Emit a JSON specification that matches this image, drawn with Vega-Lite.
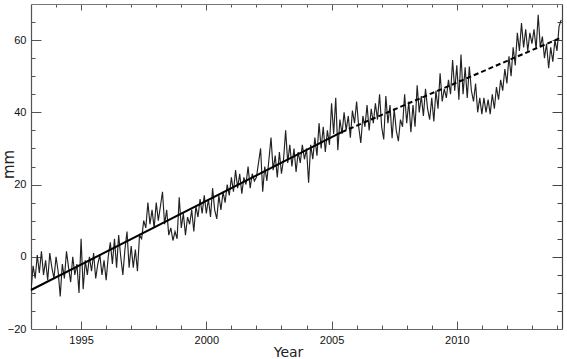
{
  "$schema": "https://vega.github.io/schema/vega-lite/v6.json",
  "width": 531,
  "height": 325,
  "autosize": "none",
  "padding": {"left": 31, "top": 4, "right": 5, "bottom": 30},
  "background": "white",
  "config": {"view": {"stroke": null}},
  "datasets": {
    "series": [
      {"t":1993.000,"v":-9.5},{"t":1993.083,"v":-2.5},{"t":1993.167,"v":-6},{"t":1993.250,"v":0.5},{"t":1993.333,"v":-4.5},{"t":1993.417,"v":1.5},{"t":1993.500,"v":-5},{"t":1993.583,"v":-1},{"t":1993.667,"v":-6.5},{"t":1993.750,"v":1},{"t":1993.833,"v":-3},{"t":1993.917,"v":-6},
      {"t":1994.000,"v":0},{"t":1994.083,"v":-4},{"t":1994.167,"v":-11},{"t":1994.250,"v":-2},{"t":1994.333,"v":-6},{"t":1994.417,"v":1.5},{"t":1994.500,"v":-3},{"t":1994.583,"v":-7},{"t":1994.667,"v":0},{"t":1994.750,"v":-5},{"t":1994.833,"v":-2},{"t":1994.917,"v":-10},
      {"t":1995.000,"v":5},{"t":1995.083,"v":-9},{"t":1995.167,"v":-1},{"t":1995.250,"v":-5},{"t":1995.333,"v":0},{"t":1995.417,"v":-4},{"t":1995.500,"v":1},{"t":1995.583,"v":-6},{"t":1995.667,"v":-2},{"t":1995.750,"v":0.5},{"t":1995.833,"v":-5},{"t":1995.917,"v":-1},
      {"t":1996.000,"v":-6.5},{"t":1996.083,"v":0},{"t":1996.167,"v":4},{"t":1996.250,"v":-2},{"t":1996.333,"v":5},{"t":1996.417,"v":-3},{"t":1996.500,"v":6},{"t":1996.583,"v":0},{"t":1996.667,"v":-5},{"t":1996.750,"v":2},{"t":1996.833,"v":7},{"t":1996.917,"v":-3},
      {"t":1997.000,"v":3},{"t":1997.083,"v":-3},{"t":1997.167,"v":2},{"t":1997.250,"v":-4},{"t":1997.333,"v":6},{"t":1997.417,"v":5},{"t":1997.500,"v":10},{"t":1997.583,"v":8},{"t":1997.667,"v":15},{"t":1997.750,"v":9},{"t":1997.833,"v":13},{"t":1997.917,"v":8},
      {"t":1998.000,"v":15},{"t":1998.083,"v":10},{"t":1998.167,"v":14},{"t":1998.250,"v":18},{"t":1998.333,"v":9},{"t":1998.417,"v":13},{"t":1998.500,"v":6},{"t":1998.583,"v":8},{"t":1998.667,"v":4.5},{"t":1998.750,"v":7},{"t":1998.833,"v":5},{"t":1998.917,"v":16.5},
      {"t":1999.000,"v":8},{"t":1999.083,"v":12},{"t":1999.167,"v":6},{"t":1999.250,"v":11},{"t":1999.333,"v":9},{"t":1999.417,"v":13},{"t":1999.500,"v":7},{"t":1999.583,"v":14},{"t":1999.667,"v":11},{"t":1999.750,"v":16},{"t":1999.833,"v":12},{"t":1999.917,"v":17},
      {"t":2000.000,"v":12},{"t":2000.083,"v":16},{"t":2000.167,"v":11},{"t":2000.250,"v":19},{"t":2000.333,"v":13},{"t":2000.417,"v":10.5},{"t":2000.500,"v":17},{"t":2000.583,"v":13},{"t":2000.667,"v":18},{"t":2000.750,"v":15},{"t":2000.833,"v":20},{"t":2000.917,"v":17},
      {"t":2001.000,"v":22},{"t":2001.083,"v":18},{"t":2001.167,"v":24},{"t":2001.250,"v":19},{"t":2001.333,"v":23},{"t":2001.417,"v":17.5},{"t":2001.500,"v":22},{"t":2001.583,"v":20},{"t":2001.667,"v":25},{"t":2001.750,"v":19},{"t":2001.833,"v":23},{"t":2001.917,"v":21},
      {"t":2002.000,"v":22},{"t":2002.083,"v":26},{"t":2002.167,"v":30},{"t":2002.250,"v":18},{"t":2002.333,"v":25},{"t":2002.417,"v":21},{"t":2002.500,"v":27},{"t":2002.583,"v":33},{"t":2002.667,"v":24},{"t":2002.750,"v":28},{"t":2002.833,"v":22},{"t":2002.917,"v":29},
      {"t":2003.000,"v":23},{"t":2003.083,"v":27},{"t":2003.167,"v":35},{"t":2003.250,"v":26},{"t":2003.333,"v":31},{"t":2003.417,"v":25},{"t":2003.500,"v":30},{"t":2003.583,"v":23.5},{"t":2003.667,"v":29},{"t":2003.750,"v":26},{"t":2003.833,"v":31},{"t":2003.917,"v":27},
      {"t":2004.000,"v":30},{"t":2004.083,"v":20.5},{"t":2004.167,"v":31},{"t":2004.250,"v":27},{"t":2004.333,"v":33},{"t":2004.417,"v":28},{"t":2004.500,"v":37},{"t":2004.583,"v":30},{"t":2004.667,"v":36},{"t":2004.750,"v":29},{"t":2004.833,"v":35},{"t":2004.917,"v":31},
      {"t":2005.000,"v":42.5},{"t":2005.083,"v":34},{"t":2005.167,"v":44},{"t":2005.250,"v":29.5},{"t":2005.333,"v":38},{"t":2005.417,"v":34},{"t":2005.500,"v":40},{"t":2005.583,"v":35},{"t":2005.667,"v":39},{"t":2005.750,"v":33},{"t":2005.833,"v":40.5},{"t":2005.917,"v":37},
      {"t":2006.000,"v":43},{"t":2006.083,"v":36},{"t":2006.167,"v":31.5},{"t":2006.250,"v":39},{"t":2006.333,"v":36},{"t":2006.417,"v":42},{"t":2006.500,"v":35},{"t":2006.583,"v":41},{"t":2006.667,"v":37},{"t":2006.750,"v":42.5},{"t":2006.833,"v":38},{"t":2006.917,"v":45},
      {"t":2007.000,"v":36},{"t":2007.083,"v":32.5},{"t":2007.167,"v":44.5},{"t":2007.250,"v":37},{"t":2007.333,"v":42},{"t":2007.417,"v":32.8},{"t":2007.500,"v":41},{"t":2007.583,"v":35},{"t":2007.667,"v":32},{"t":2007.750,"v":38},{"t":2007.833,"v":36},{"t":2007.917,"v":45},
      {"t":2008.000,"v":37},{"t":2008.083,"v":43},{"t":2008.167,"v":34.5},{"t":2008.250,"v":42},{"t":2008.333,"v":36},{"t":2008.417,"v":47.5},{"t":2008.500,"v":40},{"t":2008.583,"v":44.5},{"t":2008.667,"v":39},{"t":2008.750,"v":46.5},{"t":2008.833,"v":41},{"t":2008.917,"v":38},
      {"t":2009.000,"v":44},{"t":2009.083,"v":37.5},{"t":2009.167,"v":46},{"t":2009.250,"v":41},{"t":2009.333,"v":50.8},{"t":2009.417,"v":43},{"t":2009.500,"v":46.5},{"t":2009.583,"v":44},{"t":2009.667,"v":49},{"t":2009.750,"v":45},{"t":2009.833,"v":54.5},{"t":2009.917,"v":46},
      {"t":2010.000,"v":53},{"t":2010.083,"v":43.5},{"t":2010.167,"v":56},{"t":2010.250,"v":45},{"t":2010.333,"v":52.5},{"t":2010.417,"v":44},{"t":2010.500,"v":52.7},{"t":2010.583,"v":46},{"t":2010.667,"v":43},{"t":2010.750,"v":48},{"t":2010.833,"v":40},{"t":2010.917,"v":44},
      {"t":2011.000,"v":39.5},{"t":2011.083,"v":44},{"t":2011.167,"v":40},{"t":2011.250,"v":43.5},{"t":2011.333,"v":39.5},{"t":2011.417,"v":45},{"t":2011.500,"v":41},{"t":2011.583,"v":47},{"t":2011.667,"v":43.5},{"t":2011.750,"v":49},{"t":2011.833,"v":46},{"t":2011.917,"v":52},
      {"t":2012.000,"v":48},{"t":2012.083,"v":55.5},{"t":2012.167,"v":50},{"t":2012.250,"v":58},{"t":2012.333,"v":53},{"t":2012.417,"v":62},{"t":2012.500,"v":57},{"t":2012.583,"v":64.7},{"t":2012.667,"v":58},{"t":2012.750,"v":63},{"t":2012.833,"v":57},{"t":2012.917,"v":62},
      {"t":2013.000,"v":59},{"t":2013.083,"v":63},{"t":2013.167,"v":57.5},{"t":2013.250,"v":67},{"t":2013.333,"v":58},{"t":2013.417,"v":61},{"t":2013.500,"v":55},{"t":2013.583,"v":59},{"t":2013.667,"v":52.2},{"t":2013.750,"v":58},{"t":2013.833,"v":54},{"t":2013.917,"v":60},
      {"t":2014.000,"v":57},{"t":2014.083,"v":63.8},{"t":2014.167,"v":65.6}
    ],
    "trendSolid": [{"t":1993.0,"v":-9.2},{"t":2005.4,"v":34.5}],
    "trendDashed": [{"t":2005.4,"v":34.5},{"t":2014.2,"v":60.8}]
  },
  "resolve": {"axis": {"x": "independent", "y": "independent"}},
  "layer": [
    {
      "data": {"name": "series"},
      "mark": {"type": "line", "stroke": "#222", "strokeWidth": 1.15, "clip": true},
      "encoding": {
        "x": {"field": "t", "type": "quantitative",
          "scale": {"domain": [1993, 2014.2], "nice": false, "zero": false},
          "axis": {"orient": "bottom", "values": [1995, 2000, 2005, 2010], "format": "d", "ticks": false, "grid": false,
            "domainColor": "#666", "domainWidth": 1.2, "labelPadding": 5,
            "labelFont": "Liberation Sans", "labelFontSize": 11, "labelColor": "#111",
            "title": "Year", "titleFont": "DejaVu Sans", "titleFontSize": 14, "titleFontWeight": "normal", "titleColor": "#222",
            "titleX": 257, "titleY": 27, "titleBaseline": "alphabetic", "titleAlign": "center"}},
        "y": {"field": "v", "type": "quantitative",
          "scale": {"domain": [-20, 70], "nice": false, "zero": false},
          "axis": {"orient": "left", "values": [-20, 0, 20, 40, 60], "ticks": false, "grid": false,
            "domainColor": "#555", "domainWidth": 1.2, "labelPadding": 5,
            "labelFont": "Liberation Sans", "labelFontSize": 11, "labelColor": "#111",
            "title": "mm", "titleFont": "DejaVu Sans", "titleFontSize": 15, "titleFontWeight": "normal", "titleColor": "#222",
            "titleX": -18, "titleY": 160, "titleAngle": -90, "titleBaseline": "alphabetic", "titleAlign": "center"}}
      }
    },
    {
      "data": {"name": "trendSolid"},
      "mark": {"type": "line", "stroke": "#000", "strokeWidth": 2},
      "encoding": {
        "x": {"field": "t", "type": "quantitative",
          "axis": {"orient": "bottom", "values": [1994,1995,1996,1997,1998,1999,2000,2001,2002,2003,2004,2005,2006,2007,2008,2009,2010,2011,2012,2013,2014],
            "labels": false, "domain": false, "grid": false, "title": null, "tickColor": "#555", "tickWidth": 1,
            "tickSize": {"condition": {"test": "datum.value % 5 === 0", "value": -8}, "value": -4}}},
        "y": {"field": "v", "type": "quantitative",
          "axis": {"orient": "left", "values": [-15,-10,-5,0,5,10,15,20,25,30,35,40,45,50,55,60,65],
            "labels": false, "domain": false, "grid": false, "title": null, "tickColor": "#555", "tickWidth": 1,
            "tickSize": {"condition": {"test": "datum.value % 20 === 0", "value": -10}, "value": -4}}}
      }
    },
    {
      "data": {"name": "trendDashed"},
      "mark": {"type": "line", "stroke": "#000", "strokeWidth": 2, "strokeDash": [5, 3]},
      "encoding": {
        "x": {"field": "t", "type": "quantitative",
          "axis": {"orient": "top", "values": [1994,1995,1996,1997,1998,1999,2000,2001,2002,2003,2004,2005,2006,2007,2008,2009,2010,2011,2012,2013,2014],
            "labels": false, "domain": true, "domainColor": "#777", "grid": false, "title": null, "tickColor": "#555", "tickWidth": 1,
            "tickSize": {"condition": {"test": "datum.value % 5 === 0", "value": -6}, "value": -3}}},
        "y": {"field": "v", "type": "quantitative",
          "axis": {"orient": "right", "values": [-15,-10,-5,0,5,10,15,20,25,30,35,40,45,50,55,60,65],
            "labels": false, "domain": true, "domainColor": "#444", "domainWidth": 1.2, "grid": false, "title": null, "tickColor": "#444", "tickWidth": 1,
            "tickSize": {"condition": {"test": "datum.value % 20 === 0", "value": -10}, "value": -5}}}
      }
    }
  ]
}
